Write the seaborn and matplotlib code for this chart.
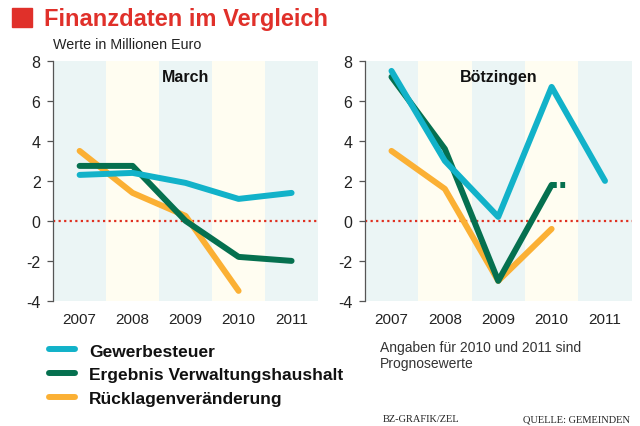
import pandas as pd
import matplotlib.pyplot as plt
import matplotlib.patches as mpatches
from matplotlib.lines import Line2D
from matplotlib.ticker import FuncFormatter
import seaborn as sns

sns.set_theme(style='white')
plt.rcParams['font.family'] = ['Liberation Sans Narrow', 'Liberation Sans', 'DejaVu Sans']

years = [2007, 2008, 2009, 2010, 2011]
series = ['Gewerbesteuer', 'Ergebnis Verwaltungshaushalt', 'Rücklagenveränderung']

# March
march_gewerbe = [2.3, 2.4, 1.9, 1.1, 1.4]
march_ergebnis = [2.75, 2.75, 0.0, -1.8, -2.0]
march_ruecklagen = [3.5, 1.4, 0.25, -3.5, None]

# Bötzingen
boetz_gewerbe = [7.5, 3.0, 0.2, 6.7, 2.0]
boetz_ergebnis = [7.2, 3.6, -3.0, 1.8, None]
boetz_ruecklagen = [3.5, 1.6, -3.0, -0.4, None]

colors = {'Gewerbesteuer': '#12b2c9',
          'Ergebnis Verwaltungshaushalt': '#05704f',
          'Rücklagenveränderung': '#fbb034'}
band_colors = ['#ebf5f5', '#fffdf1']


def make_df(gew, erg, rue):
    rows = []
    for name, vals in zip(series, [gew, erg, rue]):
        for y, v in zip(years, vals):
            rows.append({'year': y, 'series': name, 'value': v})
    return pd.DataFrame(rows).dropna()


def draw_panel(ax, df, title):
    for i, y in enumerate(years):
        ax.axvspan(y - 0.5, y + 0.5, color=band_colors[i % 2], lw=0, zorder=0)
    ax.axhline(0, color='#e03020', lw=1.6, ls=(0, (1, 1.5)), zorder=1)
    # orange first so green and cyan sit on top
    for name in reversed(series):
        sub = df[df['series'] == name]
        sns.lineplot(data=sub, x='year', y='value', ax=ax, color=colors[name],
                     lw=4.3, solid_capstyle='round', solid_joinstyle='round',
                     zorder=3, legend=False)
    ax.set_xlim(2006.5, 2011.5)
    ax.set_ylim(-4, 8)
    ax.set_yticks([-4, -2, 0, 2, 4, 6, 8])
    ax.yaxis.set_major_formatter(FuncFormatter(lambda v, p: f'{int(v)}'))
    ax.set_xticks(years)
    ax.set_xlabel('')
    ax.set_ylabel('')
    for s in ['top', 'right', 'bottom']:
        ax.spines[s].set_visible(False)
    ax.spines['left'].set_color('#555555')
    ax.spines['left'].set_linewidth(0.9)
    ax.tick_params(axis='y', left=True, length=4, width=0.9, color='#555555',
                   labelsize=11.5, pad=5, labelcolor='#222222')
    ax.tick_params(axis='x', bottom=False, labelsize=11, pad=2, labelcolor='#222222')
    ax.text(0.5, 0.965, title, transform=ax.transAxes, ha='center', va='top',
            fontsize=11.5, fontweight='bold', color='#111111', zorder=5)


fig = plt.figure(figsize=(6.4, 4.27), dpi=100)
fig.patch.set_facecolor('white')
ax1 = fig.add_axes([0.083, 0.293, 0.414, 0.562])
ax2 = fig.add_axes([0.570, 0.293, 0.417, 0.562])

draw_panel(ax1, make_df(march_gewerbe, march_ergebnis, march_ruecklagen), 'March')
draw_panel(ax2, make_df(boetz_gewerbe, boetz_ergebnis, boetz_ruecklagen), 'Bötzingen')

# forecast stub after the 2010 value of the green line
ax2.plot([2010, 2010.28], [boetz_ergebnis[3], boetz_ergebnis[3]],
         color=colors['Ergebnis Verwaltungshaushalt'], lw=4.3, ls=(0, (0.8, 0.6)), zorder=3)

# header
fig.patches.append(mpatches.Rectangle((0.019, 0.934), 0.031, 0.045, transform=fig.transFigure,
                                      color='#e0302a', figure=fig))
fig.text(0.068, 0.955, 'Finanzdaten im Vergleich', fontsize=17, fontweight='bold',
         color='#e0302a', va='center', ha='left')
fig.text(0.083, 0.895, 'Werte in Millionen Euro', fontsize=10.3, color='#222222',
         va='center', ha='left')

# legend
handles = [Line2D([0], [0], color=colors[n], lw=4.3, solid_capstyle='round') for n in series]
leg = fig.legend(handles, series, loc='upper left', bbox_to_anchor=(0.052, 0.23),
                 frameon=False, handlelength=1.5, handletextpad=0.8, labelspacing=0.5,
                 prop={'size': 12.5, 'weight': 'bold'})
for t in leg.get_texts():
    t.set_color('#111111')

fig.text(0.594, 0.167, 'Angaben für 2010 und 2011 sind\nPrognosewerte', fontsize=10,
         color='#333333', va='center', ha='left', linespacing=1.15)

fig.text(0.598, 0.006, 'BZ-GRAFIK/ZEL', fontsize=7.5, family=['Liberation Serif', 'DejaVu Serif'],
         color='#222222', va='bottom', ha='left')
fig.text(0.985, 0.006, 'QUELLE: GEMEINDEN', fontsize=7.5, family=['Liberation Serif', 'DejaVu Serif'],
         color='#222222', va='bottom', ha='right')

fig.savefig('out.png', dpi=100)
